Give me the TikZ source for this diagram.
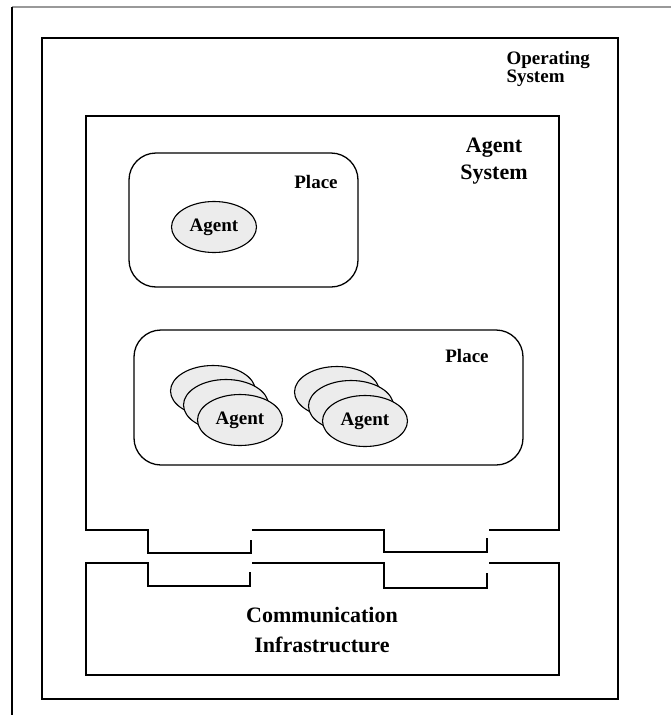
\documentclass[tikz,border=0pt]{standalone}
\usepackage{fontspec}
\setmainfont{Liberation Serif}
\usetikzlibrary{shapes.geometric}
\tikzset{
  every node/.style={
    font=\bfseries
  },
  frameline/.style={
    draw=black,
    line width=1.2pt
  },
  osline/.style={
    draw=black,
    line width=2pt
  },
  sysline/.style={
    draw=black,
    line width=1.6pt
  },
  place/.style={
    shape=rectangle,
    draw=black,
    line width=1.3pt,
    rounded corners=27pt
  },
  agent/.style={
    shape=ellipse,
    draw=black,
    line width=1.1pt,
    fill=gray!15,
    minimum width=85pt,
    minimum height=51pt,
    inner sep=0pt,
    font=\fontsize{19}{19}\selectfont\bfseries
  },
  biglabel/.style={
    align=center,
    font=\fontsize{22}{27}\selectfont\bfseries
  },
  smalllabel/.style={
    align=left,
    font=\fontsize{19}{18}\selectfont\bfseries
  }
}

\begin{document}
\begin{tikzpicture}[x=1pt,y=-1pt]
    \useasboundingbox (0,0) rectangle (671,715);
    \draw [frameline, draw=gray!80] (671,7) -- (12,7);
    \draw [frameline] (12,7) -- (12,715);
    \draw [osline] (42,38) rectangle (618,699);
    \node [smalllabel, anchor=west] (oslabel) at (503,69) {Operating\\System};

    \draw [sysline] (489,530) -- (559,530) -- (559,116) -- (86,116) -- (86,530)
      -- (148,530) -- (148,553) -- (251,553) -- (251,540);
    \draw [sysline] (252,530) -- (384,530) -- (384,552) -- (487,552) -- (487,538);
    \node [biglabel] (syslabel) at (494,161) {Agent\\System};

    \node [place, minimum width=229pt, minimum height=134pt] (place1) at (243.5,220) {};
    \node [smalllabel] (place1label) at (316,182) {Place};
    \node [agent] (agent1) at (214,227) {Agent};

    \node [place, minimum width=389pt, minimum height=135pt] (place2) at (328.5,397.5) {};
    \node [smalllabel] (place2label) at (467,356) {Place};
    \node [agent] (agent2c) at (213,391) {};
    \node [agent] (agent2b) at (226,405) {};
    \node [agent] (agent2a) at (240,420) {Agent};
    \node [agent] (agent3c) at (337,392) {};
    \node [agent] (agent3b) at (351,406) {};
    \node [agent] (agent3a) at (365,421) {Agent};

    \draw [sysline] (489,563) -- (559,563) -- (559,675) -- (86,675) -- (86,563)
      -- (148,563) -- (148,586) -- (250,586) -- (250,572);
    \draw [sysline] (252,563) -- (384,563) -- (384,588) -- (487,588) -- (487,573);
    \node [biglabel, font=\fontsize{22}{30}\selectfont\bfseries] (commlabel) at (322,630)
      {Communication\\Infrastructure};
  \end{tikzpicture}
\end{document}
